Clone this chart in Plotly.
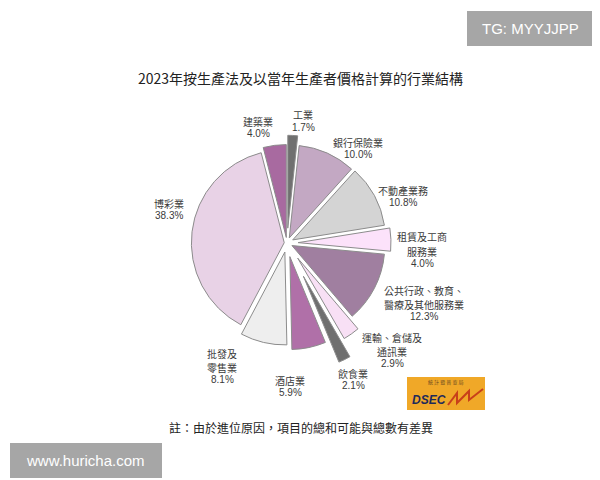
import plotly.graph_objects as go

# ---- data ----
industries = ["工業", "銀行保險業", "不動產業務", "租賃及工商服務業",
              "公共行政、教育、醫療及其他服務業", "運輸、倉儲及通訊業",
              "飲食業", "酒店業", "批發及零售業", "博彩業", "建築業"]
shares = [1.7, 10.0, 10.8, 4.0, 12.3, 2.9, 2.1, 5.9, 8.1, 38.3, 4.0]
label_lines = [["工業"], ["銀行保險業"], ["不動產業務"], ["租賃及工商", "服務業"],
               ["公共行政、教育、", "醫療及其他服務業"], ["運輸、倉儲及", "通訊業"],
               ["飲食業"], ["酒店業"], ["批發及", "零售業"], ["博彩業"], ["建築業"]]

# ---- styles ----
colors = ["#707070", "#c3a8c3", "#d4d4d4", "#fce2fa", "#a07fa0", "#f8e0f5",
          "#6f6f6f", "#b070a8", "#eeeeee", "#e8d2e6", "#a86aa0"]
pulls = [0.16, 0.06, 0.07, 0.12, 0.06, 0.2, 0.4, 0.15, 0.1, 0.03, 0.06]
# label anchor: (x centre, y of first line) in page pixels
label_pos = [(303, 115), (358, 142), (403, 190), (422, 237), (424, 290),
             (392, 337), (353, 373), (290, 380), (222, 353), (169, 203),
             (258, 121)]
LINE_CJK = 14.5
LINE_NUM = 12

# the page has an 8px body margin, so the figure is offset by 8px
OFF = 8
W, H = 600 - OFF, 480 - OFF
CJK = "Noto Sans CJK TC"
SANS = "Liberation Sans"


def px(x):
    return (x - OFF) / W


def py(y):
    return 1 - (y - OFF) / H


CX, CY, HALF = 287, 243, 130
fig = go.Figure(go.Pie(
    labels=industries, values=shares, sort=False, direction="clockwise",
    rotation=0, pull=pulls, textinfo="none", showlegend=False,
    marker=dict(colors=colors, line=dict(color="#8c8c8c", width=1)),
    domain=dict(x=[px(CX - HALF), px(CX + HALF)],
                y=[py(CY + HALF), py(CY - HALF)]),
))

annotations = []


def add_text(x, y, text, family, size, color):
    annotations.append(dict(x=px(x), y=py(y), xref="paper", yref="paper",
                            text=text, showarrow=False, xanchor="center",
                            yanchor="middle",
                            font=dict(family=family, size=size, color=color)))


for lines, val, (lx, ly) in zip(label_lines, shares, label_pos):
    yy = ly
    for i, ln in enumerate(lines):
        if i > 0:
            yy += LINE_CJK
        add_text(lx, yy, ln, CJK, 10, "#3a3a3a")
    add_text(lx, yy + LINE_NUM, f"{val:.1f}%", SANS, 10, "#3a3a3a")

# title and footnote
add_text(300, 78, "2023年按生產法及以當年生產者價格計算的行業結構", CJK, 14, "#222222")
add_text(301, 427, "註：由於進位原因，項目的總和可能與總數有差異", CJK, 12, "#222222")

# watermarks
add_text(530, 29, "TG: MYYJJPP", SANS, 15, "white")
add_text(86, 460, "www.huricha.com", SANS, 15, "white")

# logo texts
annotations.append(dict(x=px(410), y=py(400), xref="paper", yref="paper",
                        text="<b><i>DSEC</i></b>", showarrow=False,
                        xanchor="left", yanchor="middle",
                        font=dict(family=SANS, size=12, color="#1e2a5a")))
add_text(446, 382, "統 計 暨 普 查 局", CJK, 5, "#6a4a20")

shapes = [
    dict(type="rect", xref="paper", yref="paper",
         x0=px(467), x1=px(593), y0=py(46), y1=py(11),
         fillcolor="#a6a6a6", line=dict(width=0), layer="below"),
    dict(type="rect", xref="paper", yref="paper",
         x0=px(10), x1=px(162), y0=py(478), y1=py(443),
         fillcolor="#a6a6a6", line=dict(width=0), layer="below"),
    dict(type="rect", xref="paper", yref="paper",
         x0=px(407), x1=px(485), y0=py(410), y1=py(377),
         fillcolor="#f0a828", line=dict(width=0), layer="below"),
]
zz = [(448, 405), (457, 393), (457, 403), (469, 391), (469, 400), (483, 389)]
path = "M " + " L ".join(f"{px(x)},{py(y)}" for x, y in zz)
shapes.append(dict(type="path", xref="paper", yref="paper", path=path,
                   line=dict(color="#c8401a", width=2)))

fig.update_layout(
    width=W, height=H, margin=dict(l=0, r=0, t=0, b=0),
    paper_bgcolor="white", plot_bgcolor="white",
    annotations=annotations, shapes=shapes,
)

fig.write_html("out.html")
